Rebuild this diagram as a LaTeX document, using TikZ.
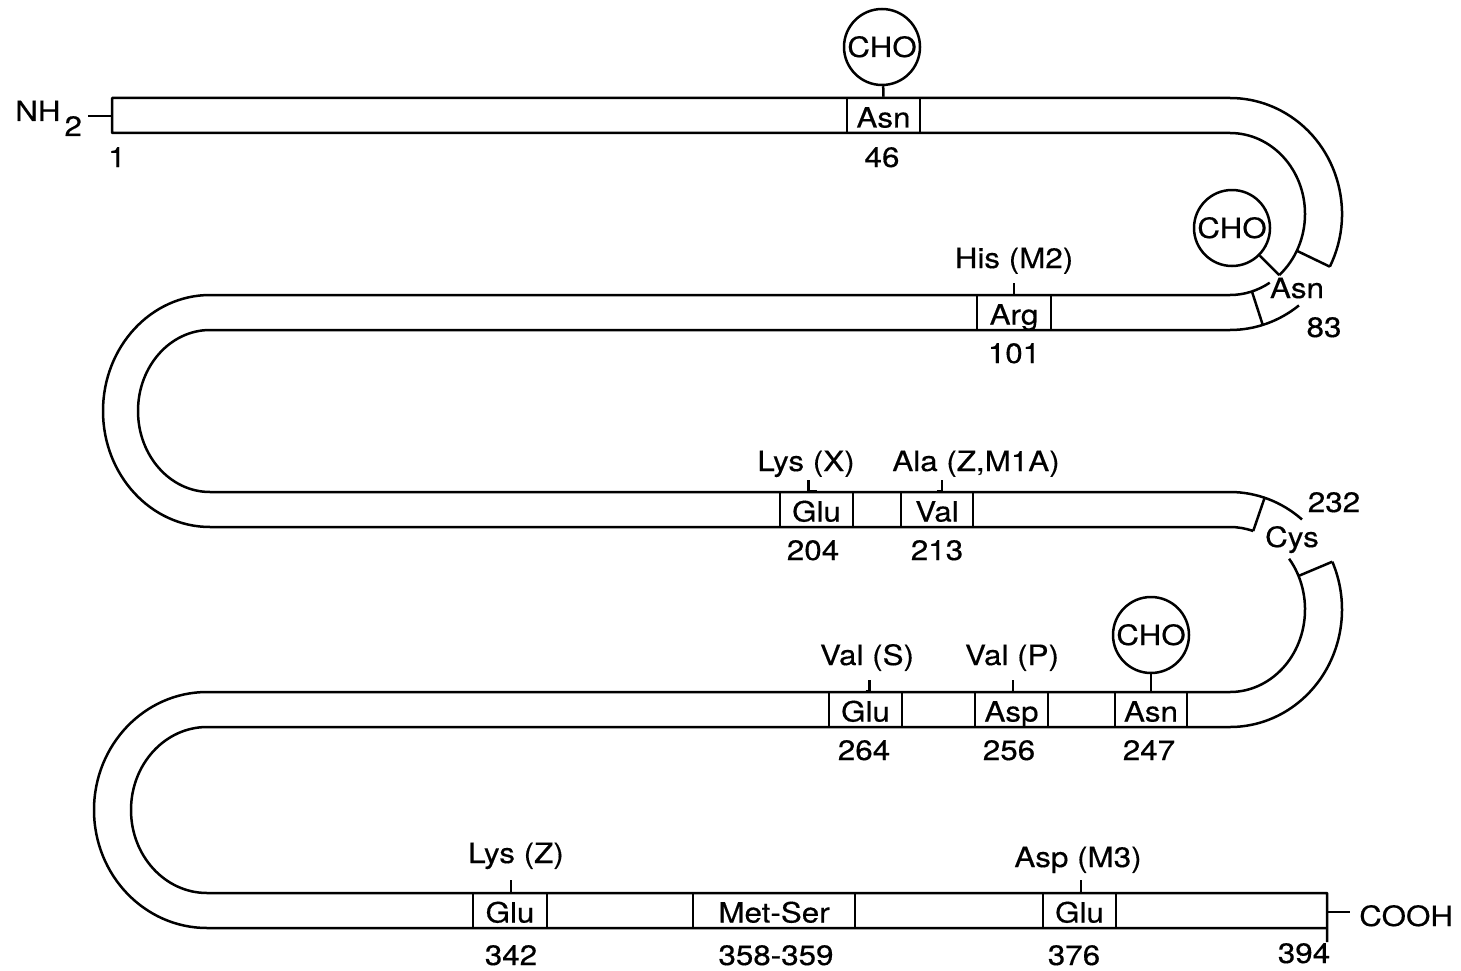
\documentclass[tikz,border=0pt]{standalone}
\usepackage{fontspec}
\setmainfont{TeX Gyre Heros}[FakeStretch=1.12,FakeBold=0.4]
\usetikzlibrary{calc}
\begin{document}
\begin{tikzpicture}[x=1pt,y=-1pt,line width=2.5pt,line join=round,
  every node/.style={font=\fontsize{28}{32}\selectfont},
  res/.style={draw,line width=2.5pt,minimum width=#1,minimum height=35pt,inner sep=0pt,text height=24pt,text depth=0pt},
  lab/.style={anchor=base,inner sep=0pt},
  cho/.style={draw,circle,line width=2.5pt,minimum size=76pt,inner sep=0pt,text height=20pt,text depth=0pt}]
\useasboundingbox (0,0) rectangle (1461,971);
% turn centres
\coordinate (c1) at (1230,214);
\coordinate (c2) at (210,411);
\coordinate (c3) at (1230,609.5);
\coordinate (c4) at (207,810);
% strand outlines
\draw ($(c1)+(27:112 and 116)$) arc[start angle=27,end angle=-90,x radius=112,y radius=116]
  -- (112,98) -- (112,133) -- (1230,133) arc[start angle=-90,end angle=49,x radius=75,y radius=81];
\draw ($(c1)+(58:75 and 81)$) arc[start angle=58,end angle=90,x radius=75,y radius=81]
  -- (210,295) arc[start angle=270,end angle=90,x radius=107,y radius=116]
  -- (1230,527) arc[start angle=-90,end angle=-72,x radius=75,y radius=82.5];
\draw ($(c1)+(52:112 and 116)$) arc[start angle=52,end angle=90,x radius=112,y radius=116]
  -- (210,330) arc[start angle=270,end angle=90,x radius=72,y radius=81]
  -- (1230,492) arc[start angle=-90,end angle=-50,x radius=112,y radius=117.5];
\draw ($(c3)+(-38:75 and 82.5)$) arc[start angle=-38,end angle=90,x radius=75,y radius=82.5]
  -- (207,692) arc[start angle=270,end angle=90,x radius=113,y radius=118]
  -- (1327,928);
\draw ($(c3)+(-24:112 and 117.5)$) arc[start angle=-24,end angle=90,x radius=112,y radius=117.5]
  -- (207,727) arc[start angle=270,end angle=90,x radius=76,y radius=83]
  -- (1327,893) -- (1327,942);
% cross lines in the bends
\draw ($(c1)+(27:75 and 81)$) -- ($(c1)+(27:112 and 116)$);
\draw ($(c1)+(73:75 and 81)$) -- ($(c1)+(73:112 and 116)$);
\draw ($(c3)+(-72:75 and 82.5)$) -- ($(c3)+(-72:112 and 117.5)$);
\draw ($(c3)+(-24:75 and 82.5)$) -- ($(c3)+(-24:112 and 117.5)$);
% residue boxes
\node[res=73pt] (asn46) at (883.5,115.5) {Asn};
\node[res=74pt] (arg101) at (1014,312.5) {Arg};
\node[res=73pt] (glu204) at (816.5,509.5) {Glu};
\node[res=72pt] (val213) at (937,509.5) {Val};
\node[res=73pt] (glu264) at (865.5,709.5) {Glu};
\node[res=73pt] (asp256) at (1011.5,709.5) {Asp};
\node[res=72pt] (asn247) at (1151,709.5) {Asn};
\node[res=74pt] (glu342) at (510,910.5) {Glu};
\node[res=162pt] (metser) at (774,910.5) {Met-Ser};
\node[res=73pt] (glu376) at (1079.5,910.5) {Glu};
% CHO groups
\node[cho] (cho1) at (882,47) {CHO};
\node[cho] (cho2) at (1232,228) {CHO};
\node[cho] (cho3) at (1151,635) {CHO};
\coordinate (asn83) at ($(c1)+(49:75 and 81)$);
\draw (cho1) -- (asn46.north);
\draw (cho2) -- (asn83);
\draw (cho3) -- (asn247.north);
% ticks to mutation labels
\draw (arg101.north) -- ++(0,-11);
\draw (glu204.north) -- ++(-8,0) -- ++(0,-11);
\draw (val213.north) -- ++(5,0) -- ++(0,-11);
\draw (glu264.north) -- ++(4,0) -- ++(0,-11);
\draw (asp256.north) -- ++(1.5,0) -- ++(0,-11);
\draw (glu342.north) -- ++(1,0) -- ++(0,-12);
\draw (glu376.north) -- ++(1.5,0) -- ++(0,-12);
% labels above
\node[lab] (his) at (1014,268) {His (M2)};
\node[lab] (lysx) at (806,471) {Lys (X)};
\node[lab] (ala) at (976,471) {Ala (Z,M1A)};
\node[lab] (vals) at (867,665) {Val (S)};
\node[lab] (valp) at (1012,665) {Val (P)};
\node[lab] (lysz) at (516,863) {Lys (Z)};
\node[lab] (aspm3) at (1078,867) {Asp (M3)};
% position numbers
\node[lab] (n1) at (117,167) {1};
\node[lab] (n46) at (882,167) {46};
\node[lab] (n101) at (1014,363) {101};
\node[lab] (n204) at (813,560) {204};
\node[lab] (n213) at (937,560) {213};
\node[lab] (n264) at (864,760) {264};
\node[lab] (n256) at (1009,760) {256};
\node[lab] (n247) at (1149,760) {247};
\node[lab] (n342) at (511,965) {342};
\node[lab] (n358) at (776,965) {358-359};
\node[lab] (n376) at (1074,965) {376};
\node[lab] (n394) at (1304,963) {394};
% bend labels
\node[lab] (asnb) at (1297,298) {Asn};
\node[lab] (n83) at (1324,337) {83};
\node[lab] (cys) at (1292,547) {Cys};
\node[lab] (n232) at (1334,512) {232};
% termini
\node[anchor=base west,inner sep=0pt] (nh) at (14,121) {NH\hspace{4pt}\raisebox{-15pt}{2}};
\coordinate (nhd) at (88,116);
\coordinate (nhe) at (112,116);
\draw (nhd) -- (nhe);
\coordinate (cod1) at (1327,912);
\coordinate (cod2) at (1350,912);
\draw (cod1) -- (cod2);
\node[anchor=base west,inner sep=0pt] (cooh) at (1358,926) {COOH};
\end{tikzpicture}
\end{document}
